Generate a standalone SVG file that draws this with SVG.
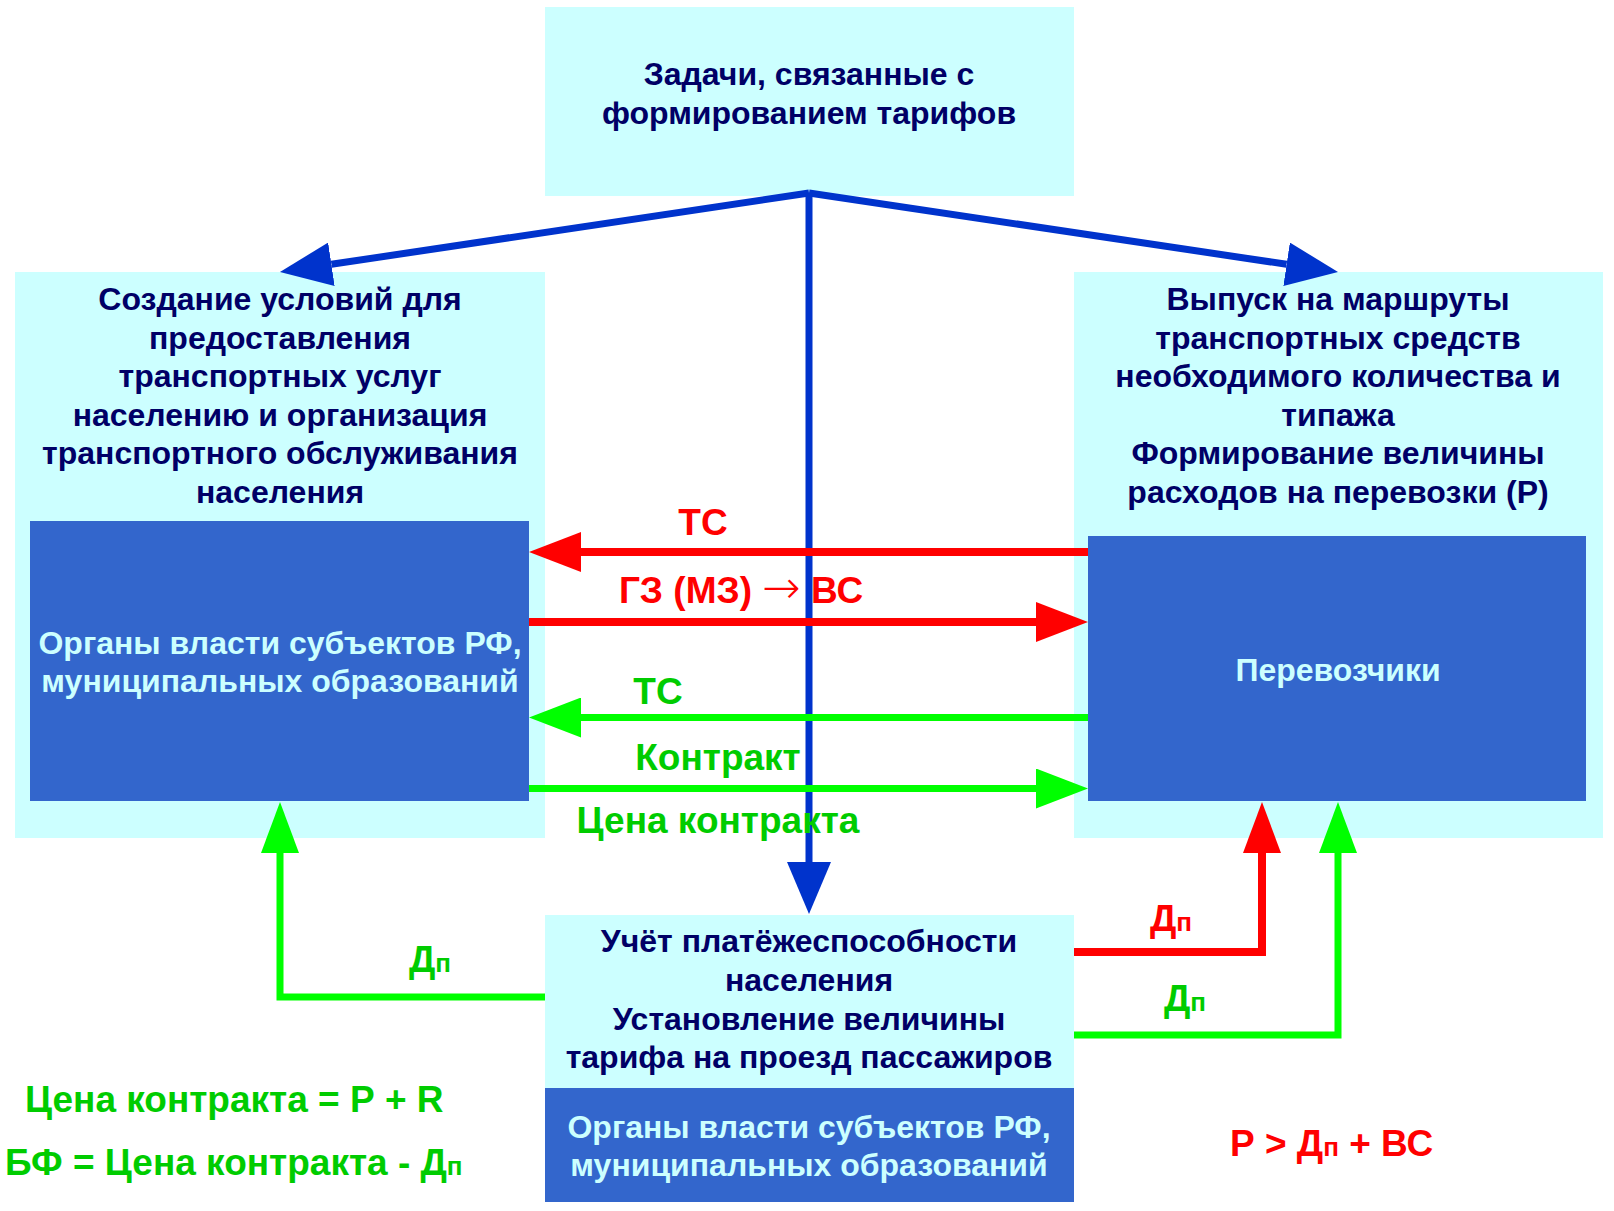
<svg xmlns="http://www.w3.org/2000/svg" width="1614" height="1211" viewBox="0 0 1614 1211">
<style>
text{font-family:"Liberation Sans",Arial,sans-serif;font-weight:bold;text-anchor:middle}
.pale{fill:#ccffff}
.dark{fill:#3366cc}
.t{font-size:32px;fill:#000066}
.tw{font-size:32px;fill:#ccffff}
.lbl{font-size:37px}
.red{fill:#ff0000}
.grn{fill:#00cc00}
.sub{font-size:26px}
.arr{font-family:"DejaVu Sans",sans-serif;font-weight:200;font-size:46px}
.cb{fill:none;stroke:#0033cc;stroke-width:7}
.cr{fill:none;stroke:#ff0000;stroke-width:8}
.cg{fill:none;stroke:#00ff00;stroke-width:7}
</style>
<defs>
<marker id="hb" viewBox="0 0 52 44" refX="0" refY="22" markerWidth="52" markerHeight="44" markerUnits="userSpaceOnUse" orient="auto"><path d="M0,0 L52,22 L0,44 z" fill="#0033cc"/></marker>
<marker id="hr" viewBox="0 0 52 40" refX="0" refY="20" markerWidth="52" markerHeight="40" markerUnits="userSpaceOnUse" orient="auto"><path d="M0,0 L52,20 L0,40 z" fill="#ff0000"/></marker>
<marker id="hg" viewBox="0 0 52 40" refX="0" refY="20" markerWidth="52" markerHeight="40" markerUnits="userSpaceOnUse" orient="auto"><path d="M0,0 L52,20 L0,40 z" fill="#00ff00"/></marker>
<marker id="vr" viewBox="0 0 51 38" refX="0" refY="19" markerWidth="51" markerHeight="38" markerUnits="userSpaceOnUse" orient="auto"><path d="M0,0 L51,19 L0,38 z" fill="#ff0000"/></marker>
<marker id="vg" viewBox="0 0 51 38" refX="0" refY="19" markerWidth="51" markerHeight="38" markerUnits="userSpaceOnUse" orient="auto"><path d="M0,0 L51,19 L0,38 z" fill="#00ff00"/></marker>
</defs>
<rect width="1614" height="1211" fill="#ffffff"/>

<g id="top-node">
<rect class="pale" x="545" y="7" width="529" height="189"/>
<text class="t" x="809" y="85">Задачи, связанные с</text>
<text class="t" x="809" y="124">формированием тарифов</text>
</g>

<g id="left-node">
<rect class="pale" x="15" y="272" width="530" height="566"/>
<text class="t" x="280" y="310">Создание условий для</text>
<text class="t" x="280" y="348.5">предоставления</text>
<text class="t" x="280" y="387">транспортных услуг</text>
<text class="t" x="280" y="425.5">населению и организация</text>
<text class="t" x="280" y="464">транспортного обслуживания</text>
<text class="t" x="280" y="502.5">населения</text>
</g>
<g id="left-authorities">
<rect class="dark" x="30" y="521" width="499" height="280"/>
<text class="tw" x="280" y="654">Органы власти субъектов РФ,</text>
<text class="tw" x="280" y="692">муниципальных образований</text>
</g>

<g id="right-node">
<rect class="pale" x="1074" y="272" width="529" height="566"/>
<text class="t" x="1338" y="310">Выпуск на маршруты</text>
<text class="t" x="1338" y="348.5">транспортных средств</text>
<text class="t" x="1338" y="387">необходимого количества и</text>
<text class="t" x="1338" y="425.5">типажа</text>
<text class="t" x="1338" y="464">Формирование величины</text>
<text class="t" x="1338" y="502.5">расходов на перевозки (Р)</text>
</g>
<g id="carriers">
<rect class="dark" x="1088" y="536" width="498" height="265"/>
<text class="tw" x="1338" y="681">Перевозчики</text>
</g>

<g id="bottom-node">
<rect class="pale" x="545" y="915" width="529" height="173"/>
<text class="t" x="809" y="952">Учёт платёжеспособности</text>
<text class="t" x="809" y="991">населения</text>
<text class="t" x="809" y="1029.5">Установление величины</text>
<text class="t" x="809" y="1068">тарифа на проезд пассажиров</text>
</g>
<g id="bottom-authorities">
<rect class="dark" x="545" y="1088" width="529" height="114"/>
<text class="tw" x="809" y="1138">Органы власти субъектов РФ,</text>
<text class="tw" x="809" y="1176">муниципальных образований</text>
</g>

<g id="connectors">
<path class="cb" d="M809,193 L331.4,264.3" marker-end="url(#hb)"/>
<path class="cb" d="M809,193 L1286.6,264.3" marker-end="url(#hb)"/>
<path class="cb" d="M809,193 V862" marker-end="url(#hb)"/>
<path class="cr" d="M1088,552 H581" marker-end="url(#hr)"/>
<path class="cr" d="M529,622 H1036" marker-end="url(#hr)"/>
<path class="cg" d="M1088,717.5 H581" marker-end="url(#hg)"/>
<path class="cg" d="M529,788.5 H1036" marker-end="url(#hg)"/>
<path class="cg" d="M545,997 H280 V853" marker-end="url(#vg)"/>
<path class="cr" d="M1074,952 H1262 V853" marker-end="url(#vr)"/>
<path class="cg" d="M1074,1035 H1338 V853" marker-end="url(#vg)"/>
</g>

<g id="connector-labels">
<text class="lbl red" x="703" y="535">ТС</text>
<text class="lbl red" x="741" y="603">ГЗ (МЗ) <tspan class="arr">→</tspan> ВС</text>
<text class="lbl grn" x="658" y="704">ТС</text>
<text class="lbl grn" x="718" y="770">Контракт</text>
<text class="lbl grn" x="718" y="833">Цена контракта</text>
<text class="lbl grn" x="430" y="972">Д<tspan class="sub">п</tspan></text>
<text class="lbl red" x="1171" y="931">Д<tspan class="sub">п</tspan></text>
<text class="lbl grn" x="1185" y="1011">Д<tspan class="sub">п</tspan></text>
</g>

<g id="formulas">
<text class="lbl grn" x="25" y="1112" style="text-anchor:start">Цена контракта = Р + R</text>
<text class="lbl grn" x="5" y="1175" style="text-anchor:start">БФ = Цена контракта - Д<tspan class="sub">п</tspan></text>
<text class="lbl red" x="1230" y="1156" style="text-anchor:start">Р &gt; Д<tspan class="sub">п</tspan> + ВС</text>
</g>
</svg>
